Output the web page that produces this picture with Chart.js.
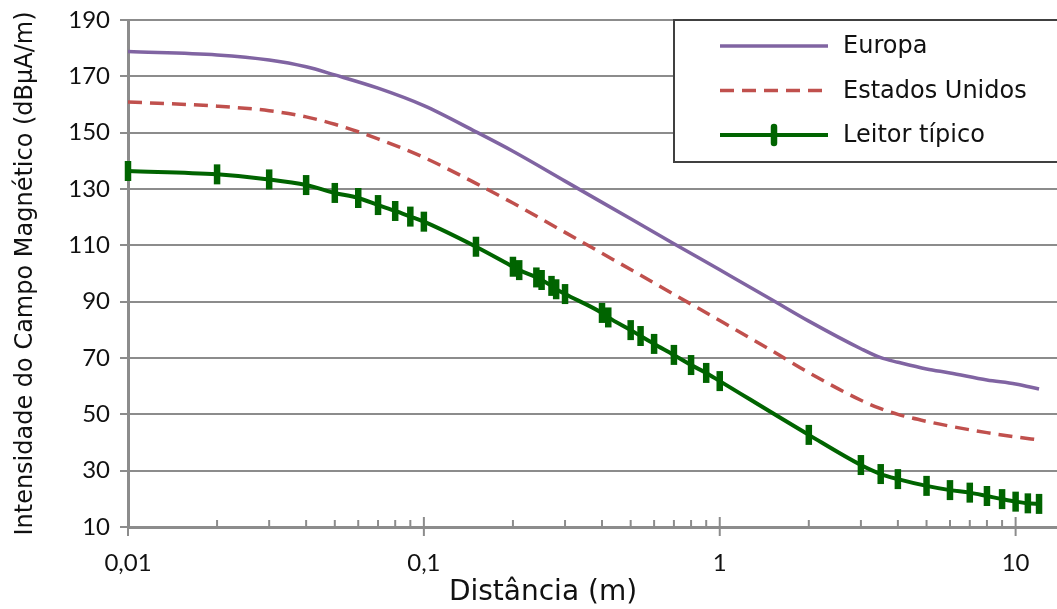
<!DOCTYPE html>
<html lang="pt">
<head>
<meta charset="UTF-8">
<title>Intensidade do campo magnético</title>
<script src="https://cdn.jsdelivr.net/npm/chart.js@4.4.0/dist/chart.umd.min.js"></script>
<style>
  body { margin: 0; background: #fff; }
  .box { width: 1057px; height: 609px; }
</style>
</head>
<body>
<div class="box"><canvas id="myChart"></canvas></div>
<script>
// limites (Europa / Estados Unidos), distância em m
const distLimites = [0.01, 0.02, 0.03, 0.04, 0.05, 0.07, 0.1, 0.15, 0.2, 0.3, 0.5, 0.7, 1, 1.5, 2, 3, 3.5, 4, 5, 6, 8, 10, 12];
const europa = [178.8, 177.6, 175.8, 173.4, 170.5, 165.8, 159.6, 150.3, 143.4, 132.8, 119.4, 110.6, 101.3, 90.7, 83.1, 73.3, 70.1, 68.5, 66.1, 64.7, 62.2, 60.8, 59.0];
const estadosUnidos = [160.9, 159.4, 157.8, 155.6, 153.0, 147.8, 141.2, 132.0, 125.0, 114.6, 101.4, 92.6, 83.3, 72.6, 64.8, 55.0, 52.0, 50.0, 47.5, 45.8, 43.5, 42.0, 40.9];

// leitor típico (medições)
const distLeitor = [0.01, 0.02, 0.03, 0.04, 0.05, 0.06, 0.07, 0.08, 0.09, 0.1, 0.15, 0.2, 0.21, 0.24, 0.25, 0.27, 0.28, 0.3, 0.4, 0.42, 0.5, 0.54, 0.6, 0.7, 0.8, 0.9, 1, 2, 3, 3.5, 4, 5, 6, 7, 8, 9, 10, 11, 12];
const leitor = [136.4, 135.2, 133.4, 131.4, 128.6, 126.8, 124.3, 122.2, 120.2, 118.4, 109.5, 102.4, 101.2, 98.6, 97.7, 95.6, 94.4, 92.7, 86.0, 84.4, 79.9, 77.8, 75.0, 71.1, 67.5, 64.7, 61.8, 42.7, 32.0, 28.8, 27.0, 24.6, 23.1, 22.2, 21.0, 19.9, 19.0, 18.4, 18.2];

// eixos
const decadas = [0.01, 0.1, 1, 10];
const decadaLabels = ['0,01', '0,1', '1', '10'];
const tituloX = 'Distância (m)';

const grey = '#8c8c8c';

function pts(xs, ys) {
  return xs.map((x, i) => ({x: x, y: ys[i]}));
}

// marcas do eixo x (décadas e subdivisões) + título
const logTicks = {
  id: 'logTicks',
  afterDraw(chart) {
    const sx = chart.scales.x, ctx = chart.ctx, area = chart.chartArea, bottom = area.bottom;
    ctx.save();
    ctx.strokeStyle = grey;
    ctx.lineWidth = 2;
    sx.ticks.forEach(t => {
      const p = Math.pow(10, Math.floor(Math.log10(t.value) + 1e-9));
      const m = t.value / p;
      if (Math.abs(m - Math.round(m)) > 1e-6) return;
      const major = Math.round(m) === 1;
      const px = sx.getPixelForValue(t.value);
      ctx.beginPath();
      ctx.moveTo(px, major ? bottom - 10 : bottom - 7);
      ctx.lineTo(px, major ? bottom + 9 : bottom);
      ctx.stroke();
    });
    ctx.fillStyle = '#111';
    ctx.font = '28px "DejaVu Sans"';
    ctx.textAlign = 'center';
    ctx.textBaseline = 'alphabetic';
    ctx.fillText(tituloX, area.left + 415, bottom + 73);
    ctx.restore();
  }
};

// legenda com moldura
const legendBox = {
  id: 'legendBox',
  afterDraw(chart) {
    const ctx = chart.ctx, area = chart.chartArea;
    const bx = area.right - 383, by = area.top, bw = 400, bh = 142;
    ctx.save();
    ctx.fillStyle = '#fff';
    ctx.fillRect(bx, by, bw, bh);
    ctx.strokeStyle = '#404040';
    ctx.lineWidth = 2;
    ctx.strokeRect(bx, by, bw, bh);
    ctx.font = '24px "DejaVu Sans"';
    ctx.textBaseline = 'middle';
    chart.data.datasets.forEach((ds, i) => {
      const y = by + 26 + i * 44.5;
      ctx.strokeStyle = ds.borderColor;
      ctx.lineWidth = ds.borderWidth;
      ctx.setLineDash(ds.borderDash || []);
      ctx.beginPath();
      ctx.moveTo(bx + 46, y);
      ctx.lineTo(bx + 154, y);
      ctx.stroke();
      ctx.setLineDash([]);
      if (ds.pointRadius) {
        ctx.lineWidth = ds.pointBorderWidth;
        ctx.lineCap = 'round';
        ctx.beginPath();
        ctx.moveTo(bx + 100, y - ds.pointRadius + 2);
        ctx.lineTo(bx + 100, y + ds.pointRadius - 2);
        ctx.stroke();
        ctx.lineCap = 'butt';
      }
      ctx.fillStyle = '#111';
      ctx.fillText(ds.label, bx + 169, y + 1);
    });
    ctx.restore();
  }
};

const ctx = document.getElementById('myChart').getContext('2d');
const myChart = new Chart(ctx, {
  type: 'line',
  data: {
    datasets: [{
      label: 'Europa',
      data: pts(distLimites, europa),
      borderColor: '#8064a2',
      borderWidth: 3.5,
      pointRadius: 0,
      cubicInterpolationMode: 'monotone'
    }, {
      label: 'Estados Unidos',
      data: pts(distLimites, estadosUnidos),
      borderColor: '#c0504d',
      borderWidth: 3.5,
      borderDash: [14, 8],
      pointRadius: 0,
      cubicInterpolationMode: 'monotone'
    }, {
      label: 'Leitor típico',
      data: pts(distLeitor, leitor),
      borderColor: '#006400',
      backgroundColor: '#006400',
      borderWidth: 4,
      pointStyle: 'line',
      rotation: 90,
      pointRadius: 10,
      pointBorderWidth: 6.5,
      pointBorderColor: '#006400',
      cubicInterpolationMode: 'monotone',
      clip: false
    }]
  },
  options: {
    responsive: true,
    maintainAspectRatio: false,
    animation: false,
    layout: { autoPadding: false, padding: { top: 20, right: 0, left: 0, bottom: 0 } },
    plugins: {
      legend: { display: false },
      tooltip: { enabled: false }
    },
    scales: {
      x: {
        type: 'logarithmic',
        min: 0.01,
        max: 13.8,
        grid: {
          display: true,
          drawOnChartArea: false,
          drawTicks: true,
          tickLength: 22,
          tickColor: 'rgba(0,0,0,0)'
        },
        border: { display: true, color: grey, width: 3 },
        ticks: {
          autoSkip: false,
          includeBounds: false,
          maxRotation: 0,
          padding: 0,
          color: '#111',
          font: { family: 'Lato', size: 24 },
          callback: (value) => {
            const i = decadas.findIndex(d => Math.abs(d - value) < d * 1e-6);
            return i >= 0 ? decadaLabels[i] : '';
          }
        },
        title: { display: false },
        afterFit: (scale) => { scale.height = 82; }
      },
      y: {
        min: 10,
        max: 190,
        grid: { color: grey, lineWidth: 2, tickLength: 8, tickColor: grey },
        border: { display: true, color: grey, width: 3 },
        ticks: {
          stepSize: 20,
          padding: 10,
          color: '#111',
          font: { family: 'Lato', size: 24, lineHeight: 0.8 }
        },
        title: {
          display: true,
          text: 'Intensidade do Campo Magnético (dBµA/m)',
          color: '#111',
          font: { family: 'DejaVu Sans', size: 24 },
          padding: { top: 11, bottom: 0 }
        },
        afterFit: (scale) => { scale.width = 128; }
      }
    }
  },
  plugins: [logTicks, legendBox]
});
</script>
</body>
</html>
